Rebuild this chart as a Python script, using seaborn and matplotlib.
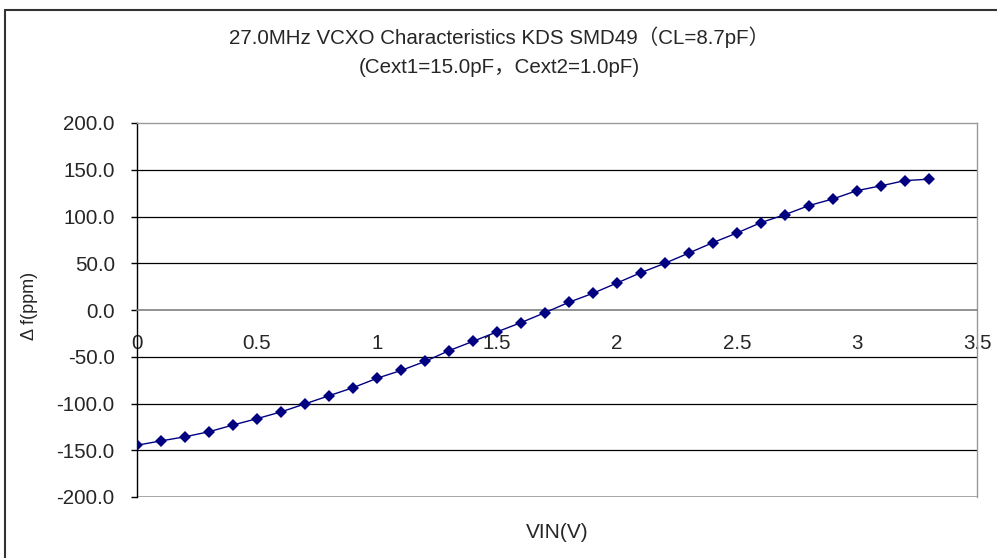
import numpy as np
import pandas as pd
import matplotlib.pyplot as plt
from matplotlib.lines import Line2D
import seaborn as sns

# 讀圖估計的資料
vin = [0.0, 0.1, 0.2, 0.3, 0.4, 0.5, 0.6, 0.7, 0.8, 0.9, 1.0, 1.1,
       1.2, 1.3, 1.4, 1.5, 1.6, 1.7, 1.8, 1.9, 2.0, 2.1, 2.2, 2.3,
       2.4, 2.5, 2.6, 2.7, 2.8, 2.9, 3.0, 3.1, 3.2, 3.3]
df_ppm = [-144.6, -140.0, -135.6, -130.2, -123.0, -116.2, -109.0, -100.4,
          -91.7, -83.1, -73.0, -64.7, -55.0, -43.5, -33.5, -23.4, -13.5,
          -2.8, 8.3, 17.9, 28.9, 40.0, 50.0, 61.0, 72.1, 82.4, 93.5,
          102.0, 111.7, 118.8, 127.7, 132.8, 138.4, 139.9]
x_ticks = [0, 0.5, 1, 1.5, 2, 2.5, 3, 3.5]
x_tick_labels = ['0', '0.5', '1', '1.5', '2', '2.5', '3', '3.5']
y_ticks = [-200, -150, -100, -50, 0, 50, 100, 150, 200]

title = '27.0MHz VCXO Characteristics KDS SMD49（CL=8.7pF）\n(Cext1=15.0pF，Cext2=1.0pF)'

sns.set_style('white')
plt.rcParams['font.family'] = ['Liberation Sans', 'Noto Sans CJK SC', 'DejaVu Sans']

df = pd.DataFrame({'VIN': vin, 'df': df_ppm})

fig = plt.figure(figsize=(9.97, 5.58), dpi=100)
ax = fig.add_axes([137 / 997, 1 - 497 / 558, 840 / 997, 374 / 558])

# 格線
for v in y_ticks[1:-1]:
    if v != 0:
        ax.axhline(v, color='black', lw=0.9, zorder=1)

sns.lineplot(data=df, x='VIN', y='df', color='#000080', lw=1.0,
             marker='D', markersize=6, markeredgewidth=0, ax=ax, zorder=3)

ax.set_xlim(0, 3.5)
ax.set_ylim(-200, 200)
ax.set_xticks(x_ticks)
ax.set_xticklabels(x_tick_labels)
ax.set_yticks(y_ticks)
ax.set_yticklabels(['%.1f' % v for v in y_ticks])

# x 軸畫在 0 的位置
ax.spines['bottom'].set_position(('data', 0))
ax.spines['bottom'].set_color('#808080')
ax.spines['bottom'].set_linewidth(1.2)
ax.axhline(-200, color='#999999', lw=1.2, zorder=1)
ax.spines['top'].set_color('#999999')
ax.spines['right'].set_color('#999999')
ax.spines['left'].set_color('black')
for s in ['top', 'right', 'left']:
    ax.spines[s].set_linewidth(1.0)

ax.tick_params(axis='x', direction='in', length=6, width=1, color='#808080',
               pad=17, labelsize=14.8)
ax.tick_params(axis='y', direction='out', length=4, width=1, color='black',
               pad=12, labelsize=14.8, left=True)

ax.set_xlabel('')
ax.set_ylabel('')
fig.text(557 / 997, 1 - 533 / 558, 'VIN(V)', ha='center', va='center', fontsize=15)
fig.text(29 / 997, 1 - 306 / 558, 'Δ f(ppm)', ha='center', va='center',
         rotation=90, fontsize=13)
fig.text(499 / 997, 1 - 52 / 558, title, ha='center', va='center',
         fontsize=14.8, linespacing=1.65)

# 圖表外框
fig.add_artist(Line2D([5 / 997, 1], [1 - 10 / 558, 1 - 10 / 558],
                      transform=fig.transFigure, color='#333333', lw=1.5))
fig.add_artist(Line2D([5 / 997, 5 / 997], [0, 1 - 10 / 558],
                      transform=fig.transFigure, color='#333333', lw=1.5))

fig.savefig('out.png', dpi=100)
